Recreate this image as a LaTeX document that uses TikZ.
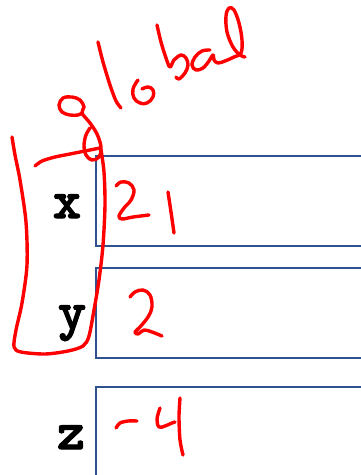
\documentclass[tikz,border=0pt]{standalone}
\usepackage{fontspec}
\newfontfamily\codefont[FakeBold=2]{lmmonolt10-bold.otf}
\begin{document}
\begin{tikzpicture}[x=1pt,y=-1pt,
  cellbox/.style={draw=cellblue,line width=2.2pt},
  ink/.style={draw=inkred,line width=3.4pt,line cap=round,line join=round},
  varname/.style={inner sep=0pt,anchor=base,font=\fontsize{54}{60}\selectfont\codefont}]
\definecolor{cellblue}{RGB}{47,82,143}
\definecolor{inkred}{RGB}{255,0,0}
\useasboundingbox (0,0) rectangle (361,475);
% memory cells
\draw[cellbox] (365,156) -- (96,156) -- (96,246) -- (365,246);
\draw[cellbox] (365,268) -- (96,268) -- (96,358) -- (365,358);
\draw[cellbox] (365,387) -- (96,387) -- (96,480);
% variable names
\node[varname] (vx) at (67,218) {x};
\node[varname] (vy) at (72,329) {y};
\node[varname] (vz) at (71,449) {z};
% handwritten "global"
\draw[ink] plot[smooth,tension=0.6] coordinates {(82,113) (78,115) (70,115) (62,112) (59,105) (63,98) (72,97) (80,100) (84,107) (82,113) (90,123) (97,134) (101,147) (99,157) (92,160) (86,155) (84,145) (86,135) (90,128)};
\draw[ink] plot[smooth] coordinates {(35,166) (42,161) (55,157) (70,154) (85,151) (100,148)};
\draw[ink] plot[smooth] coordinates {(98,42) (103,62) (110,85) (116,101) (121,108)};
\draw[ink] plot[smooth,tension=0.7] coordinates {(138,80) (133,89) (134,98) (140,103) (147,103) (153,97) (153,90) (148,87) (142,89)};
\draw[ink] plot[smooth,tension=0.6] coordinates {(157,25) (161,42) (166,58) (170,67) (174,60) (181,55) (186,58) (188,65) (185,73) (179,79) (176,77)};
\draw[ink] plot[smooth,tension=0.6] coordinates {(210,50) (202,51) (195,57) (192,65) (196,70) (203,68) (209,61) (213,55) (214,60) (218,63) (225,61) (234,57) (241,53) (242,40) (239,23) (234,10) (229,8) (226,16) (227,32) (233,47) (240,55) (245,57)};
% bracket
\draw[ink] plot[smooth,tension=0.5] coordinates {(101,150) (104,172) (105,205) (103,245) (99,280) (94,310) (89,336) (83,346) (68,351) (45,354) (21,352) (14,347) (16,330) (22,303) (27,265) (26,222) (20,180) (15,155) (12,137)};
% values
\draw[ink] plot[smooth,tension=0.6] coordinates {(116,186) (121,182) (129,183) (134,190) (131,200) (124,208) (119,216) (122,219) (133,217) (149,215)};
\draw[ink] plot[smooth] coordinates {(168,192) (171,212) (174,233)};
\draw[ink] plot[smooth,tension=0.6] coordinates {(130,297) (135,292) (143,290) (150,295) (152,307) (148,317) (140,327) (135,332) (138,334) (144,330) (152,332) (162,336)};
\draw[ink] plot[smooth] coordinates {(116,428) (120,423) (128,421) (137,421)};
\draw[ink] plot[smooth,tension=0.6] coordinates {(160,408) (157,419) (159,427) (165,426) (172,423) (175,422)};
\draw[ink] plot[smooth] coordinates {(180,398) (179,417) (180,440) (183,455)};
\end{tikzpicture}
\end{document}
